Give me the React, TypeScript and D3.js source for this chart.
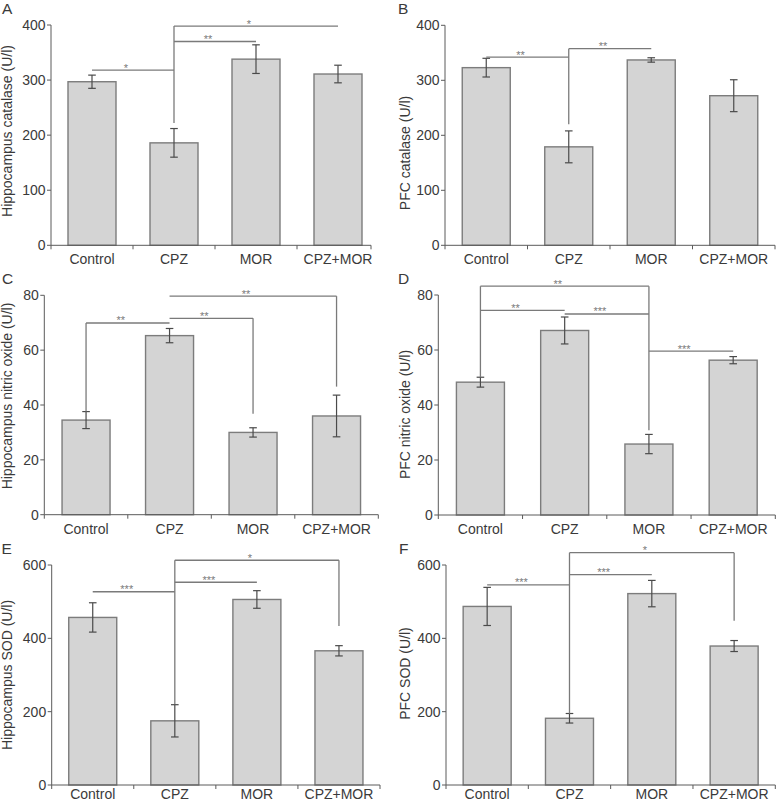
import React from "react";
import * as d3 from "d3";

const categories = ["Control", "CPZ", "MOR", "CPZ+MOR"];

const hippoCatalaseMean = [297, 186, 338, 311];
const hippoCatalaseErr = [12, 26, 26, 16];
const pfcCatalaseMean = [323, 179, 337, 272];
const pfcCatalaseErr = [17, 29, 4, 29];
const hippoNOMean = [34.5, 65.3, 30, 36];
const hippoNOErr = [3.1, 2.6, 1.7, 7.6];
const pfcNOMean = [48.3, 67.1, 25.8, 56.3];
const pfcNOErr = [1.8, 4.9, 3.5, 1.3];
const hippoSODMean = [457, 175, 506, 366];
const hippoSODErr = [40, 44, 24, 14];
const pfcSODMean = [487, 182, 522, 379];
const pfcSODErr = [52, 13, 36, 15];

const catalaseTicks = [0, 100, 200, 300, 400];
const noTicks = [0, 20, 40, 60, 80];
const sodTicks = [0, 200, 400, 600];

type Bracket = { from: string; to: string; level: number; label: string; dropFrom?: number; dropTo?: number };

const hippoCatalaseBrackets: Bracket[] = [
  { from: "Control", to: "CPZ", level: 318, label: "*" },
  { from: "CPZ", to: "MOR", level: 370, label: "**" },
  { from: "CPZ", to: "CPZ+MOR", level: 398, label: "*", dropFrom: 222 },
];
const pfcCatalaseBrackets: Bracket[] = [
  { from: "Control", to: "CPZ", level: 342, label: "**" },
  { from: "CPZ", to: "MOR", level: 357.5, label: "**", dropFrom: 220 },
];
const hippoNOBrackets: Bracket[] = [
  { from: "Control", to: "CPZ", level: 69.9, label: "**", dropFrom: 37.6 },
  { from: "CPZ", to: "MOR", level: 71.6, label: "**", dropTo: 36.8 },
  { from: "CPZ", to: "CPZ+MOR", level: 79.7, label: "**", dropTo: 46.7 },
];
const pfcNOBrackets: Bracket[] = [
  { from: "Control", to: "MOR", level: 83.2, label: "**", dropFrom: 50.1, dropTo: 30.8 },
  { from: "Control", to: "CPZ", level: 74.4, label: "**" },
  { from: "CPZ", to: "MOR", level: 73.1, label: "***" },
  { from: "MOR", to: "CPZ+MOR", level: 59.6, label: "***" },
];
const hippoSODBrackets: Bracket[] = [
  { from: "Control", to: "CPZ", level: 527, label: "***" },
  { from: "CPZ", to: "MOR", level: 553, label: "***" },
  { from: "CPZ", to: "CPZ+MOR", level: 613, label: "*", dropFrom: 221, dropTo: 433.6 },
];
const pfcSODBrackets: Bracket[] = [
  { from: "Control", to: "CPZ", level: 546, label: "***" },
  { from: "CPZ", to: "MOR", level: 573.5, label: "***" },
  { from: "CPZ", to: "CPZ+MOR", level: 633.5, label: "*", dropFrom: 194.5, dropTo: 448 },
];

const FONT = "'Liberation Sans', Arial, sans-serif";
const TEXT = "#3a3a3a";
const AXIS = "#5a5a5a";
const BAR_FILL = "#d4d4d4";
const BAR_STROKE = "#7c7c7c";
const ERR = "#4a4a4a";
const BRACKET = "#7a7a7a";

const panels = [
  { letter: "A", title: "Hippocampus catalase (U/l)", mean: hippoCatalaseMean, err: hippoCatalaseErr, ticks: catalaseTicks, brackets: hippoCatalaseBrackets,
    left: 51, right: 379, axisEnd: 371, top: 25, bottom: 245.3, titleX: 12, titleY: 131, letterX: 2, letterY: 13.5, labelDy: 19 },
  { letter: "B", title: "PFC catalase (U/l)", mean: pfcCatalaseMean, err: pfcCatalaseErr, ticks: catalaseTicks, brackets: pfcCatalaseBrackets,
    left: 445, right: 775, axisEnd: 775, top: 25.3, bottom: 245.3, titleX: 409.5, titleY: 153, letterX: 398, letterY: 13.5, labelDy: 19 },
  { letter: "C", title: "Hippocampus nitric oxide (U/l)", mean: hippoNOMean, err: hippoNOErr, ticks: noTicks, brackets: hippoNOBrackets,
    left: 44.3, right: 378.3, axisEnd: 378.3, top: 295.3, bottom: 514.7, titleX: 12, titleY: 396, letterX: 2, letterY: 283.7, labelDy: 19 },
  { letter: "D", title: "PFC nitric oxide (U/l)", mean: pfcNOMean, err: pfcNOErr, ticks: noTicks, brackets: pfcNOBrackets,
    left: 438.3, right: 775.3, axisEnd: 775.3, top: 295, bottom: 515, titleX: 409.5, titleY: 414.5, letterX: 398, letterY: 283.7, labelDy: 19 },
  { letter: "E", title: "Hippocampus SOD (U/l)", mean: hippoSODMean, err: hippoSODErr, ticks: sodTicks, brackets: hippoSODBrackets,
    left: 51.7, right: 380, axisEnd: 380, top: 565, bottom: 785, titleX: 12, titleY: 675, letterX: 1.5, letterY: 553.7, labelDy: 13.5 },
  { letter: "F", title: "PFC SOD (U/l)", mean: pfcSODMean, err: pfcSODErr, ticks: sodTicks, brackets: pfcSODBrackets,
    left: 446, right: 775.3, axisEnd: 775.3, top: 565, bottom: 785, titleX: 409.5, titleY: 673.5, letterX: 399, letterY: 553.7, labelDy: 13.5 },
];

function Panel({ p }: { p: (typeof panels)[number] }) {
  const step = (p.right - p.left) / categories.length;
  const pad = 1 - 48 / step;
  const x = d3.scaleBand<string>().domain(categories).range([p.left, p.right]).paddingInner(pad).paddingOuter(pad / 2);
  const y = d3.scaleLinear().domain([0, d3.max(p.ticks) as number]).range([p.bottom, p.top]);
  const cx = (c: string) => (x(c) as number) + x.bandwidth() / 2;
  const boundaries = d3.range(categories.length + 1).map((i) => p.left + x.step() * i).filter((v) => v <= p.axisEnd + 0.5);
  if (Math.abs(boundaries[boundaries.length - 1] - p.axisEnd) > 0.5) boundaries.push(p.axisEnd);
  const capW = 3.8;

  return (
    <g>
      <text x={p.letterX} y={p.letterY} fontFamily={FONT} fontSize={15.5} fill={TEXT}>{p.letter}</text>
      <text transform={`translate(${p.titleX},${p.titleY}) rotate(-90)`} textAnchor="middle" fontFamily={FONT} fontSize={14} fill={TEXT}>{p.title}</text>
      {/* bars */}
      {categories.map((c, i) => (
        <rect key={c} x={x(c)} y={y(p.mean[i])} width={x.bandwidth()} height={y(0) - y(p.mean[i])} fill={BAR_FILL} stroke={BAR_STROKE} strokeWidth={1.4} />
      ))}
      {/* error bars */}
      {categories.map((c, i) => {
        const xc = cx(c);
        const y1 = y(p.mean[i] + p.err[i]);
        const y2 = y(p.mean[i] - p.err[i]);
        return (
          <g key={c} stroke={ERR} strokeWidth={1.2}>
            <line x1={xc} x2={xc} y1={y1} y2={y2} />
            <line x1={xc - capW} x2={xc + capW} y1={y1} y2={y1} />
            <line x1={xc - capW} x2={xc + capW} y1={y2} y2={y2} />
          </g>
        );
      })}
      {/* brackets */}
      {p.brackets.map((b, i) => {
        const xa = cx(b.from);
        const xb = cx(b.to);
        const yl = y(b.level);
        return (
          <g key={i}>
            <g stroke={BRACKET} strokeWidth={1.3} fill="none">
              <line x1={xa} x2={xb} y1={yl} y2={yl} />
              {b.dropFrom !== undefined && <line x1={xa} x2={xa} y1={yl} y2={y(b.dropFrom)} />}
              {b.dropTo !== undefined && <line x1={xb} x2={xb} y1={yl} y2={y(b.dropTo)} />}
            </g>
            <text x={(xa + xb) / 2 - 7} y={yl + 1.5} textAnchor="middle" fontFamily={FONT} fontSize={11} fill={BRACKET}>{b.label}</text>
          </g>
        );
      })}
      {/* y axis */}
      <line x1={p.left} x2={p.left} y1={y(0)} y2={y(d3.max(p.ticks) as number)} stroke={AXIS} strokeWidth={1} />
      {p.ticks.map((t) => (
        <g key={t}>
          <line x1={p.left - 4} x2={p.left} y1={y(t)} y2={y(t)} stroke={AXIS} strokeWidth={1} />
          <text x={p.left - 5.5} y={y(t)} dy="0.35em" textAnchor="end" fontFamily={FONT} fontSize={14} fill={TEXT}>{t}</text>
        </g>
      ))}
      {/* x axis */}
      <line x1={p.left} x2={p.axisEnd} y1={p.bottom} y2={p.bottom} stroke={AXIS} strokeWidth={1} />
      {boundaries.map((bx, i) => (
        <line key={i} x1={bx} x2={bx} y1={p.bottom} y2={p.bottom + 4} stroke={AXIS} strokeWidth={1} />
      ))}
      {categories.map((c) => (
        <text key={c} x={cx(c)} y={p.bottom + p.labelDy} textAnchor="middle" fontFamily={FONT} fontSize={14} fill={TEXT}>{c}</text>
      ))}
    </g>
  );
}

export default function App() {
  return (
    <svg width={776} height={804} viewBox="0 0 776 804" style={{ position: "absolute", left: 0, top: 0, background: "#fff" }}>
      <rect x={0} y={0} width={776} height={804} fill="#fff" />
      {panels.map((p) => (
        <Panel key={p.letter} p={p} />
      ))}
    </svg>
  );
}
